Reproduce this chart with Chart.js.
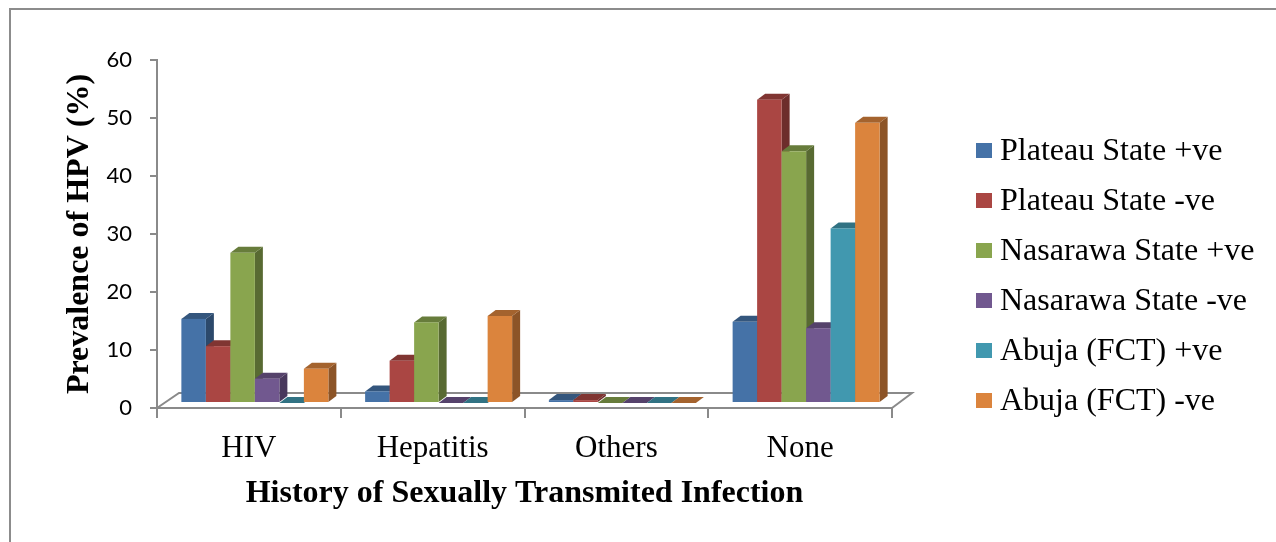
<!DOCTYPE html>
<html>
<head>
<meta charset="utf-8">
<script src="https://cdn.jsdelivr.net/npm/chart.js@4.4.1/dist/chart.umd.min.js"></script>
<style>
  html, body { margin: 0; padding: 0; background: #ffffff; }
  #wrap { width: 1276px; height: 542px; position: relative; }
</style>
</head>
<body>
<div id="wrap"><canvas id="c" width="1276" height="542"></canvas></div>
<script>
// Prevalence of HPV (%) by history of sexually transmitted infection
const categories = ['HIV', 'Hepatitis', 'Others', 'None'];
const seriesNames = [
  'Plateau State +ve', 'Plateau State -ve',
  'Nasarawa State +ve', 'Nasarawa State -ve',
  'Abuja (FCT) +ve', 'Abuja (FCT) -ve'
];
const plateauPos  = [14.5, 2.0, 0.5, 14.0];
const plateauNeg  = [9.8, 7.3, 0.5, 52.3];
const nasarawaPos = [25.9, 13.9, 0, 43.4];
const nasarawaNeg = [4.2, 0, 0, 12.9];
const abujaPos    = [0, 0, 0, 30.1];
const abujaNeg    = [5.9, 15.0, 0, 48.3];
const yTicks = [0, 10, 20, 30, 40, 50, 60];

const seriesValues = [plateauPos, plateauNeg, nasarawaPos, nasarawaNeg, abujaPos, abujaNeg];
const seriesColors = ['#4572A7', '#AA4643', '#89A54E', '#71588F', '#4198AF', '#DB843D'];

const AXIS_GREY = '#8a8a8a';
const SERIF = '"Liberation Serif", "Times New Roman", serif';

function shade(hex, f) {
  const n = parseInt(hex.slice(1), 16);
  const r = Math.round(((n >> 16) & 255) * f);
  const g = Math.round(((n >> 8) & 255) * f);
  const b = Math.round((n & 255) * f);
  return `rgb(${r},${g},${b})`;
}

// Page background and frame
const framePlugin = {
  id: 'frame',
  beforeDraw(chart) {
    const ctx = chart.ctx;
    ctx.save();
    ctx.fillStyle = '#ffffff';
    ctx.fillRect(0, 0, chart.width, chart.height);
    ctx.strokeStyle = '#8c8c8c';
    ctx.lineWidth = 2;
    ctx.strokeRect(10, 9, chart.width + 40, chart.height + 40);
    ctx.restore();
  }
};

// Floor plate and extruded columns built from the bar elements
const DEPTH_X = 8, DEPTH_Y = 6;      // extrusion of each column
const SHIFT_X = 6, SHIFT_Y = -5;     // columns sit a little back on the floor
const depthPlugin = {
  id: 'depth3d',
  beforeDatasetsDraw(chart) {
    const ctx = chart.ctx;
    const { left, right, bottom } = chart.chartArea;
    ctx.save();
    ctx.strokeStyle = AXIS_GREY;
    ctx.lineWidth = 2;
    ctx.beginPath();
    ctx.moveTo(left, bottom);
    ctx.lineTo(left + 22, bottom - 15);
    ctx.lineTo(right + 20, bottom - 15);
    ctx.lineTo(right, bottom);
    ctx.stroke();

    const metas = chart.data.datasets.map((d, i) => chart.getDatasetMeta(i));
    for (let c = 0; c < categories.length; c++) {
      metas.forEach((meta, d) => {
        const bar = meta.data[c];
        if (!bar) return;
        const p = bar.getProps(['x', 'y', 'base', 'width'], true);
        const col = seriesColors[d];
        const x0 = p.x - p.width / 2 + SHIFT_X;
        const x1 = p.x + p.width / 2 + SHIFT_X;
        const yT = Math.min(p.y, p.base) + SHIFT_Y;
        const yB = Math.max(p.y, p.base) + SHIFT_Y;
        // side
        ctx.fillStyle = shade(col, 0.64);
        ctx.beginPath();
        ctx.moveTo(x1, yT);
        ctx.lineTo(x1 + DEPTH_X, yT - DEPTH_Y);
        ctx.lineTo(x1 + DEPTH_X, yB - DEPTH_Y);
        ctx.lineTo(x1, yB);
        ctx.closePath();
        ctx.fill();
        // top
        ctx.fillStyle = shade(col, 0.75);
        ctx.beginPath();
        ctx.moveTo(x0, yT);
        ctx.lineTo(x0 + DEPTH_X, yT - DEPTH_Y);
        ctx.lineTo(x1 + DEPTH_X, yT - DEPTH_Y);
        ctx.lineTo(x1, yT);
        ctx.closePath();
        ctx.fill();
        // front
        if (yB - yT > 0) {
          ctx.fillStyle = col;
          ctx.fillRect(x0, yT, x1 - x0, yB - yT);
        }
      });
    }
    ctx.restore();
    return false;
  }
};

// Legend on the right
const legendPlugin = {
  id: 'sideLegend',
  afterDraw(chart) {
    const ctx = chart.ctx;
    ctx.save();
    ctx.font = '32px ' + SERIF;
    ctx.textBaseline = 'middle';
    ctx.textAlign = 'left';
    chart.data.datasets.forEach((ds, i) => {
      const yc = 151 + i * 50;
      ctx.fillStyle = ds.backgroundColor;
      ctx.fillRect(976, yc - 8, 16, 15);
      ctx.fillStyle = '#000000';
      ctx.fillText(ds.label, 1000, yc + 1);
    });
    ctx.restore();
  }
};

const datasets = seriesNames.map((name, i) => ({
  label: name,
  data: seriesValues[i],
  backgroundColor: seriesColors[i],
  borderWidth: 0,
  categoryPercentage: 0.8,
  barPercentage: 1.0
}));

new Chart(document.getElementById('c'), {
  type: 'bar',
  data: { labels: categories, datasets },
  plugins: [framePlugin, depthPlugin, legendPlugin],
  options: {
    responsive: false,
    animation: false,
    devicePixelRatio: 1,
    layout: { padding: { left: 0, right: 384, top: 60, bottom: 0 } },
    plugins: { legend: { display: false }, tooltip: { enabled: false } },
    scales: {
      x: {
        grid: { offset: true, drawOnChartArea: false, drawTicks: true, tickLength: 10, color: AXIS_GREY, lineWidth: 2 },
        border: { display: true, color: AXIS_GREY, width: 2 },
        ticks: { color: '#000', font: { family: SERIF, size: 31 }, padding: 12, maxRotation: 0, autoSkip: false },
        title: {
          display: true, text: 'History of Sexually Transmited Infection', color: '#000',
          font: { family: SERIF, size: 32, weight: 'bold' }, padding: { top: 0, bottom: 29 }
        },
        afterFit(s) { s.height = 134; }
      },
      y: {
        min: 0, max: 60,
        afterBuildTicks(s) { s.ticks = yTicks.map(v => ({ value: v })); },
        grid: { drawOnChartArea: false, drawTicks: true, tickLength: 7, color: AXIS_GREY, lineWidth: 2 },
        border: { display: true, color: AXIS_GREY, width: 2 },
        ticks: { color: '#000', font: { family: 'Lato', size: 22 }, padding: 18 },
        title: {
          display: true, text: 'Prevalence of HPV (%)', color: '#000',
          font: { family: SERIF, size: 32, weight: 'bold' }, padding: { top: 61, bottom: 0 }
        },
        afterFit(s) { s.width = 157; }
      }
    }
  }
});
</script>
</body>
</html>
